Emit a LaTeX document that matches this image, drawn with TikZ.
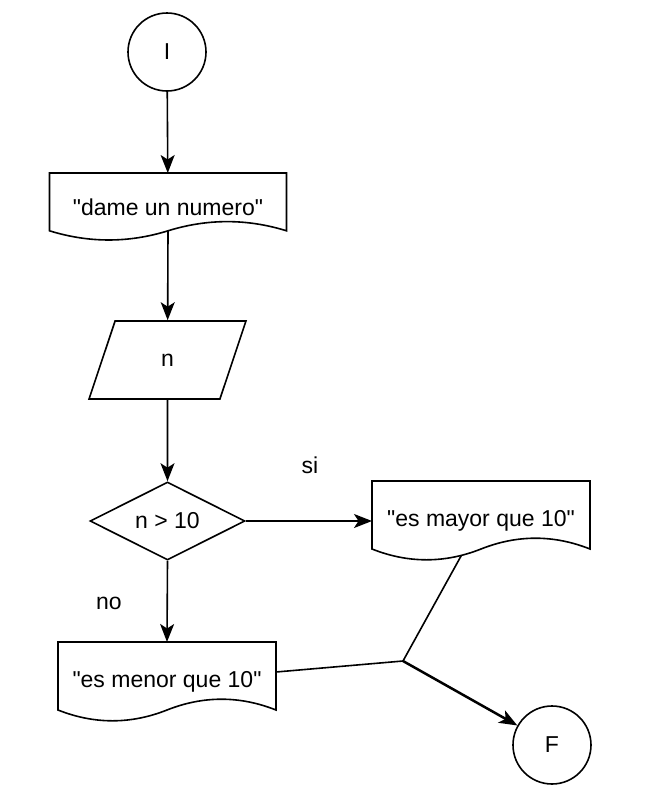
\documentclass[tikz,border=0pt]{standalone}
\usepackage{fontspec}
\setmainfont{Liberation Sans}
\usetikzlibrary{shapes.geometric,arrows.meta,calc}

% outline of a document box: straight top and sides, wavy bottom
\newcommand{\docoutline}[2]{%
  \draw ($(#1.south west)+(0,-#2/2)$) -- (#1.north west) -- (#1.north east)
    -- ($(#1.south east)+(0,-#2/2)$)
    .. controls ($(#1.south west)!5/6!(#1.south east)+(0,-1.1*#2)$)
           and ($(#1.south west)!2/3!(#1.south east)+(0,-1.1*#2)$)
    .. ($(#1.south)+(0,-#2/2)$)
    .. controls ($(#1.south west)!1/3!(#1.south east)+(0,0.1*#2)$)
           and ($(#1.south west)!1/6!(#1.south east)+(0,0.1*#2)$)
    .. cycle;
}

\begin{document}
\begin{tikzpicture}[x=1pt,y=-1pt,line width=1.6pt,
    font=\fontsize{23}{27}\selectfont,
    flow/.style={-{Stealth[length=18pt,width=14pt,inset=4.5pt]}},
    terminal/.style={draw,circle,minimum size=78pt,inner sep=0pt},
    docbox/.style={rectangle,inner sep=0pt,outer sep=0pt},
    inbox/.style={draw,trapezium,trapezium left angle=75.6,trapezium right angle=104.4,
      trapezium stretches,minimum width=157pt,minimum height=78pt,inner sep=0pt},
    testbox/.style={draw,diamond,aspect=2,minimum width=155pt,minimum height=78pt,inner sep=0pt}]

    \useasboundingbox (0,0) rectangle (646,793);

    % Start and end
    \node[terminal] (I) at (167,52) {I};
    \node[terminal] (F) at (552,745) {F};

    % Document boxes
    \node[docbox,minimum width=237pt,minimum height=68pt] (dame) at (168,207) {\textquotedbl dame un numero\textquotedbl};
    \node[docbox,minimum width=218pt,minimum height=80pt] (mayor) at (481,521) {\textquotedbl es mayor que 10\textquotedbl};
    \node[docbox,minimum width=218pt,minimum height=80pt] (menor) at (167,682) {\textquotedbl es menor que 10\textquotedbl};
    \docoutline{dame}{20.4}
    \docoutline{mayor}{24}
    \docoutline{menor}{24}

    % Input and decision
    \node[inbox] (n) at (167.5,360) {n};
    \node[testbox] (test) at (167.5,521) {n > 10};

    % Branch labels
    \node (si) at (310,465) {si};
    \node (no) at (109,603) {no};

    % Points where the lines leave the boxes and meet
    \coordinate (dame-out) at ($(dame.south)+(0,-10.2)$);
    \coordinate (mayor-out) at ($(mayor.south west)!0.41!(mayor.south east)+(0,-5.6)$);
    \coordinate (join) at (403,661);

    % Draw the connectors
    \draw[flow] (I) -- (dame);
    \draw[flow] (dame-out) -- (n);
    \draw[flow] (n) -- (test);
    \draw[flow] (test.east) -- (mayor.west);
    \draw[flow] (test.south) -- (menor.north);
    \draw (mayor-out) -- (join);
    \draw ([yshift=10pt]menor.east) -- (join);
    \draw[flow,line width=2.5pt] (join) -- (F);

\end{tikzpicture}
\end{document}
